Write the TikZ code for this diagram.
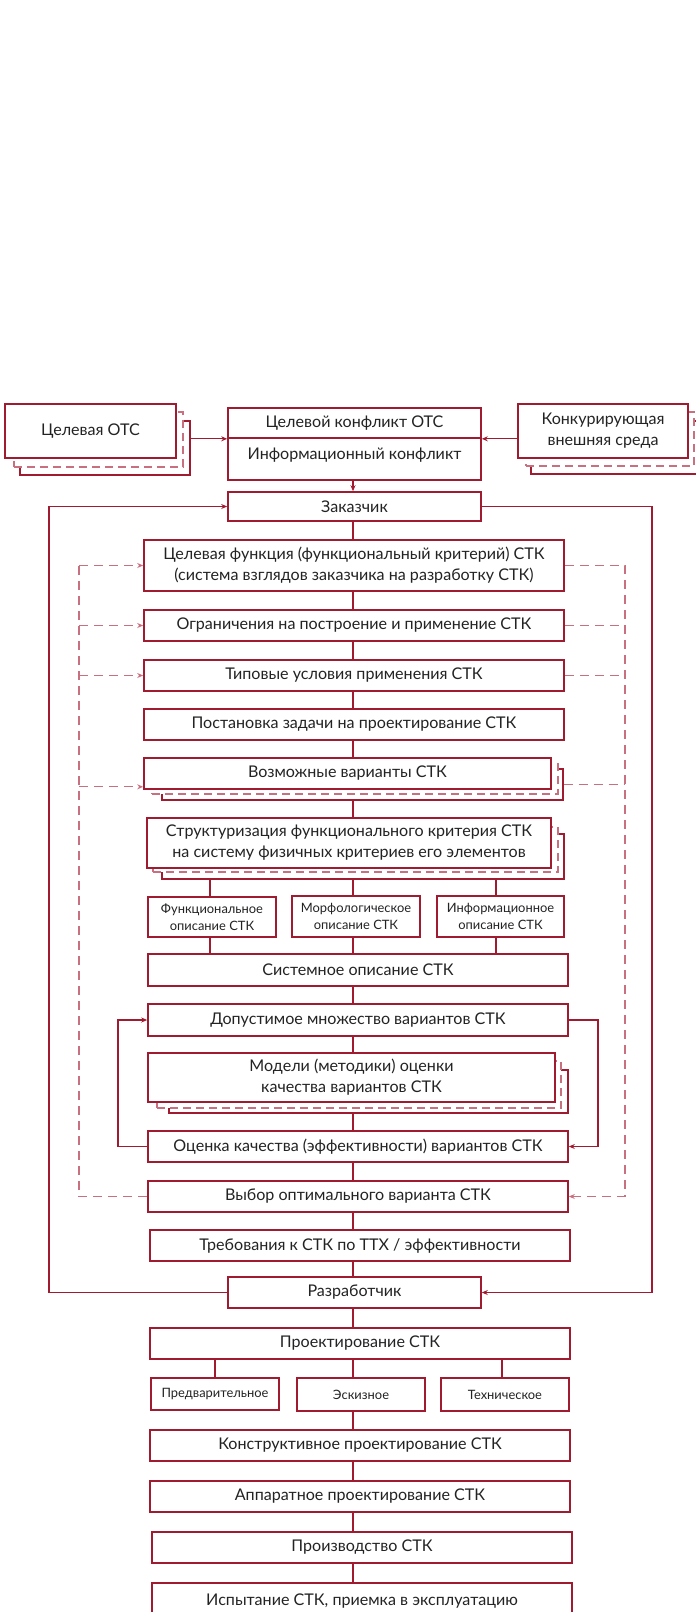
\documentclass[tikz,border=0pt]{standalone}
\usepackage{fontspec}
\setmainfont{Lato}
\usetikzlibrary{arrows.meta}
\definecolor{cred}{RGB}{160,27,48}
\definecolor{cpink}{RGB}{200,112,128}
\definecolor{ctext}{RGB}{35,35,35}
\newcommand\mainf{\fontsize{16.1}{21}\selectfont}
\newcommand\smallf{\fontsize{12.9}{17}\selectfont}
\newcommand\BX[7][]{%
  \pgfmathsetmacro\bxcx{(#3+#5)/2}\pgfmathsetmacro\bxcy{(#4+#6)/2}%
  \pgfmathsetmacro\bxw{#5-#3}\pgfmathsetmacro\bxh{#6-#4}%
  \node[box,minimum width=\bxw pt,minimum height=\bxh pt,#1] (#2) at (\bxcx,\bxcy) {#7};}
\begin{document}
\begin{tikzpicture}[x=1pt,y=-1pt,
  box/.style={draw=cred,line width=1.6pt,fill=white,text=ctext,align=center,inner sep=0pt,font=\mainf},
  smallbox/.style={font=\smallf},
  layS/.style={draw=cred,line width=1.3pt,fill=white},
  layD/.style={draw=cpink,line width=1.3pt,fill=white,dash pattern=on 8pt off 5pt},
  conn/.style={draw=cred,line width=1.1pt},
  arr/.style={conn,-{Stealth[length=6pt,width=5pt]}},
  dconn/.style={draw=cpink,line width=1.2pt,dash pattern=on 9pt off 6pt},
  darr/.style={dconn,-{Stealth[length=6pt,width=5pt]}}]
\useasboundingbox (0,0) rectangle (696,1612);
\fill[white] (0,0) rectangle (696,1612);
\clip (0,0) rectangle (696,1612);
% guide coordinates
\coordinate (spine) at (353,0);
\coordinate (c1) at (210,0); \coordinate (c3) at (496,0);
\coordinate (p1) at (215,0); \coordinate (p3) at (502,0);
\coordinate (L) at (49,0);  \coordinate (R) at (652,0);
\coordinate (L2) at (118,0); \coordinate (R2) at (598,0);
\coordinate (L3) at (79,0);  \coordinate (R3) at (625,0);
% top row
\BX[layS]{otsS}{20}{421}{190}{475}{}
\BX[layD]{otsD}{14}{412}{183}{467}{}
\BX{ots}{5}{404}{176}{458}{Целевая ОТС}
\BX{kc1}{228}{408}{481}{438}{Целевой конфликт ОТС}
\BX[text height=11pt,text depth=11pt]{kc2}{228}{438}{481}{480}{Информационный конфликт}
\BX[layS]{kvsS}{531}{421}{702}{474}{}
\BX[layD]{kvsD}{526}{412}{694}{466}{}
\BX{kvs}{518}{404}{688}{458}{Конкурирующая\\внешняя среда}
% main column
\BX{zak}{228}{492}{481}{521}{Заказчик}
\BX{cf}{144}{540}{564}{591}{Целевая функция (функциональный критерий) СТК\\(система взглядов заказчика на разработку СТК)}
\BX{ogr}{144}{610}{564}{641}{Ограничения на построение и применение СТК}
\BX{tip}{144}{660}{564}{691}{Типовые условия применения СТК}
\BX{post}{144}{709}{564}{740}{Постановка задачи на проектирование СТК}
\BX[layS]{vozS}{162}{769}{563}{800}{}
\BX[layD]{vozD}{152}{764}{558}{794}{}
\BX{voz}{144}{758}{551}{789}{Возможные варианты СТК}
\BX[layS]{strS}{162}{834}{564}{879}{}
\BX[layD]{strD}{153}{827}{558}{872}{}
\BX{str}{147}{818}{551}{868}{Структуризация функционального критерия СТК\\на систему физичных критериев его элементов}
\BX[smallbox]{fo}{148}{897}{276}{937}{Функциональное\\описание СТК}
\BX[smallbox]{mo}{292}{896}{420}{937}{Морфологическое\\описание СТК}
\BX[smallbox]{io}{437}{896}{564}{937}{Информационное\\описание СТК}
\BX{sys}{148}{954}{568}{986}{Системное описание СТК}
\BX{dop}{148}{1004}{568}{1036}{Допустимое множество вариантов СТК}
\BX[layS]{modS}{169}{1070}{568}{1113}{}
\BX[layD]{modD}{157}{1061}{561}{1108}{}
\BX{mod}{148}{1053}{555}{1102}{Модели (методики) оценки\\качества вариантов СТК}
\BX{oc}{148}{1131}{568}{1162}{Оценка качества (эффективности) вариантов СТК}
\BX{vyb}{148}{1181}{568}{1212}{Выбор оптимального варианта СТК}
\BX{treb}{150}{1230}{570}{1261}{Требования к СТК по ТТХ / эффективности}
\BX{razr}{228}{1277}{481}{1308}{Разработчик}
\BX{proj}{150}{1328}{570}{1359}{Проектирование СТК}
\BX[smallbox]{pred}{151}{1378}{279}{1410}{Предварительное}
\BX[smallbox]{esk}{297}{1378}{425}{1411}{Эскизное}
\BX[smallbox]{tech}{441}{1378}{569}{1411}{Техническое}
\BX{konst}{150}{1430}{570}{1461}{Конструктивное проектирование СТК}
\BX{app}{150}{1481}{570}{1512}{Аппаратное проектирование СТК}
\BX{proizv}{152}{1532}{572}{1563}{Производство СТК}
\BX{isp}{152}{1583}{572}{1620}{Испытание СТК, приемка в эксплуатацию}
% top arrows
\draw[arr] (kc1.south west -| otsS.east) -- (kc1.south west);
\draw[arr] (kc1.south east -| kvs.west) -- (kc1.south east);
\draw[arr] (kc2.south -| spine) -- (zak.north -| spine);
% spine connectors
\draw[conn] (zak.south -| spine) -- (cf.north -| spine);
\draw[conn] (cf.south -| spine) -- (ogr.north -| spine);
\draw[conn] (ogr.south -| spine) -- (tip.north -| spine);
\draw[conn] (tip.south -| spine) -- (post.north -| spine);
\draw[conn] (post.south -| spine) -- (voz.north -| spine);
\draw[conn] (vozS.south -| spine) -- (str.north -| spine);
\draw[conn] (strS.south -| c1) -- (fo.north -| c1);
\draw[conn] (strS.south -| spine) -- (mo.north -| spine);
\draw[conn] (strS.south -| c3) -- (io.north -| c3);
\draw[conn] (fo.south -| c1) -- (sys.north -| c1);
\draw[conn] (mo.south -| spine) -- (sys.north -| spine);
\draw[conn] (io.south -| c3) -- (sys.north -| c3);
\draw[conn] (sys.south -| spine) -- (dop.north -| spine);
\draw[conn] (dop.south -| spine) -- (mod.north -| spine);
\draw[conn] (modS.south -| spine) -- (oc.north -| spine);
\draw[conn] (oc.south -| spine) -- (vyb.north -| spine);
\draw[conn] (vyb.south -| spine) -- (treb.north -| spine);
\draw[conn] (treb.south -| spine) -- (razr.north -| spine);
\draw[conn] (razr.south -| spine) -- (proj.north -| spine);
\draw[conn] (proj.south -| p1) -- (pred.north -| p1);
\draw[conn] (proj.south -| spine) -- (esk.north -| spine);
\draw[conn] (proj.south -| p3) -- (tech.north -| p3);
\draw[conn] (esk.south -| spine) -- (konst.north -| spine);
\draw[conn] (konst.south -| spine) -- (app.north -| spine);
\draw[conn] (app.south -| spine) -- (proizv.north -| spine);
\draw[conn] (proizv.south -| spine) -- (isp.north -| spine);
% big loops
\draw[arr] (razr.west) -- (razr.west -| L) -- (zak.west -| L) -- (zak.west);
\draw[arr] (zak.east) -- (zak.east -| R) -- (razr.east -| R) -- (razr.east);
% inner loops
\draw[arr] (oc.west) -- (oc.west -| L2) -- (dop.west -| L2) -- (dop.west);
\draw[arr] (dop.east) -- (dop.east -| R2) -- (oc.east -| R2) -- (oc.east);
% dashed loops
\coordinate (vozin) at ([yshift=3pt]voz.south west);
\draw[dconn] (vyb.west) -- (vyb.west -| L3) -- (cf.west -| L3);
\draw[darr] (cf.west -| L3) -- (cf.west);
\draw[darr] (ogr.west -| L3) -- (ogr.west);
\draw[darr] (tip.west -| L3) -- (tip.west);
\draw[darr] (vozin -| L3) -- (vozin);
\draw[darr] (cf.east) -- (cf.east -| R3) -- (vyb.east -| R3) -- (vyb.east);
\draw[dconn] (ogr.east) -- (ogr.east -| R3);
\draw[dconn] (tip.east) -- (tip.east -| R3);
\draw[dconn] (vozS.east) -- (vozS.east -| R3);
\end{tikzpicture}
\end{document}
